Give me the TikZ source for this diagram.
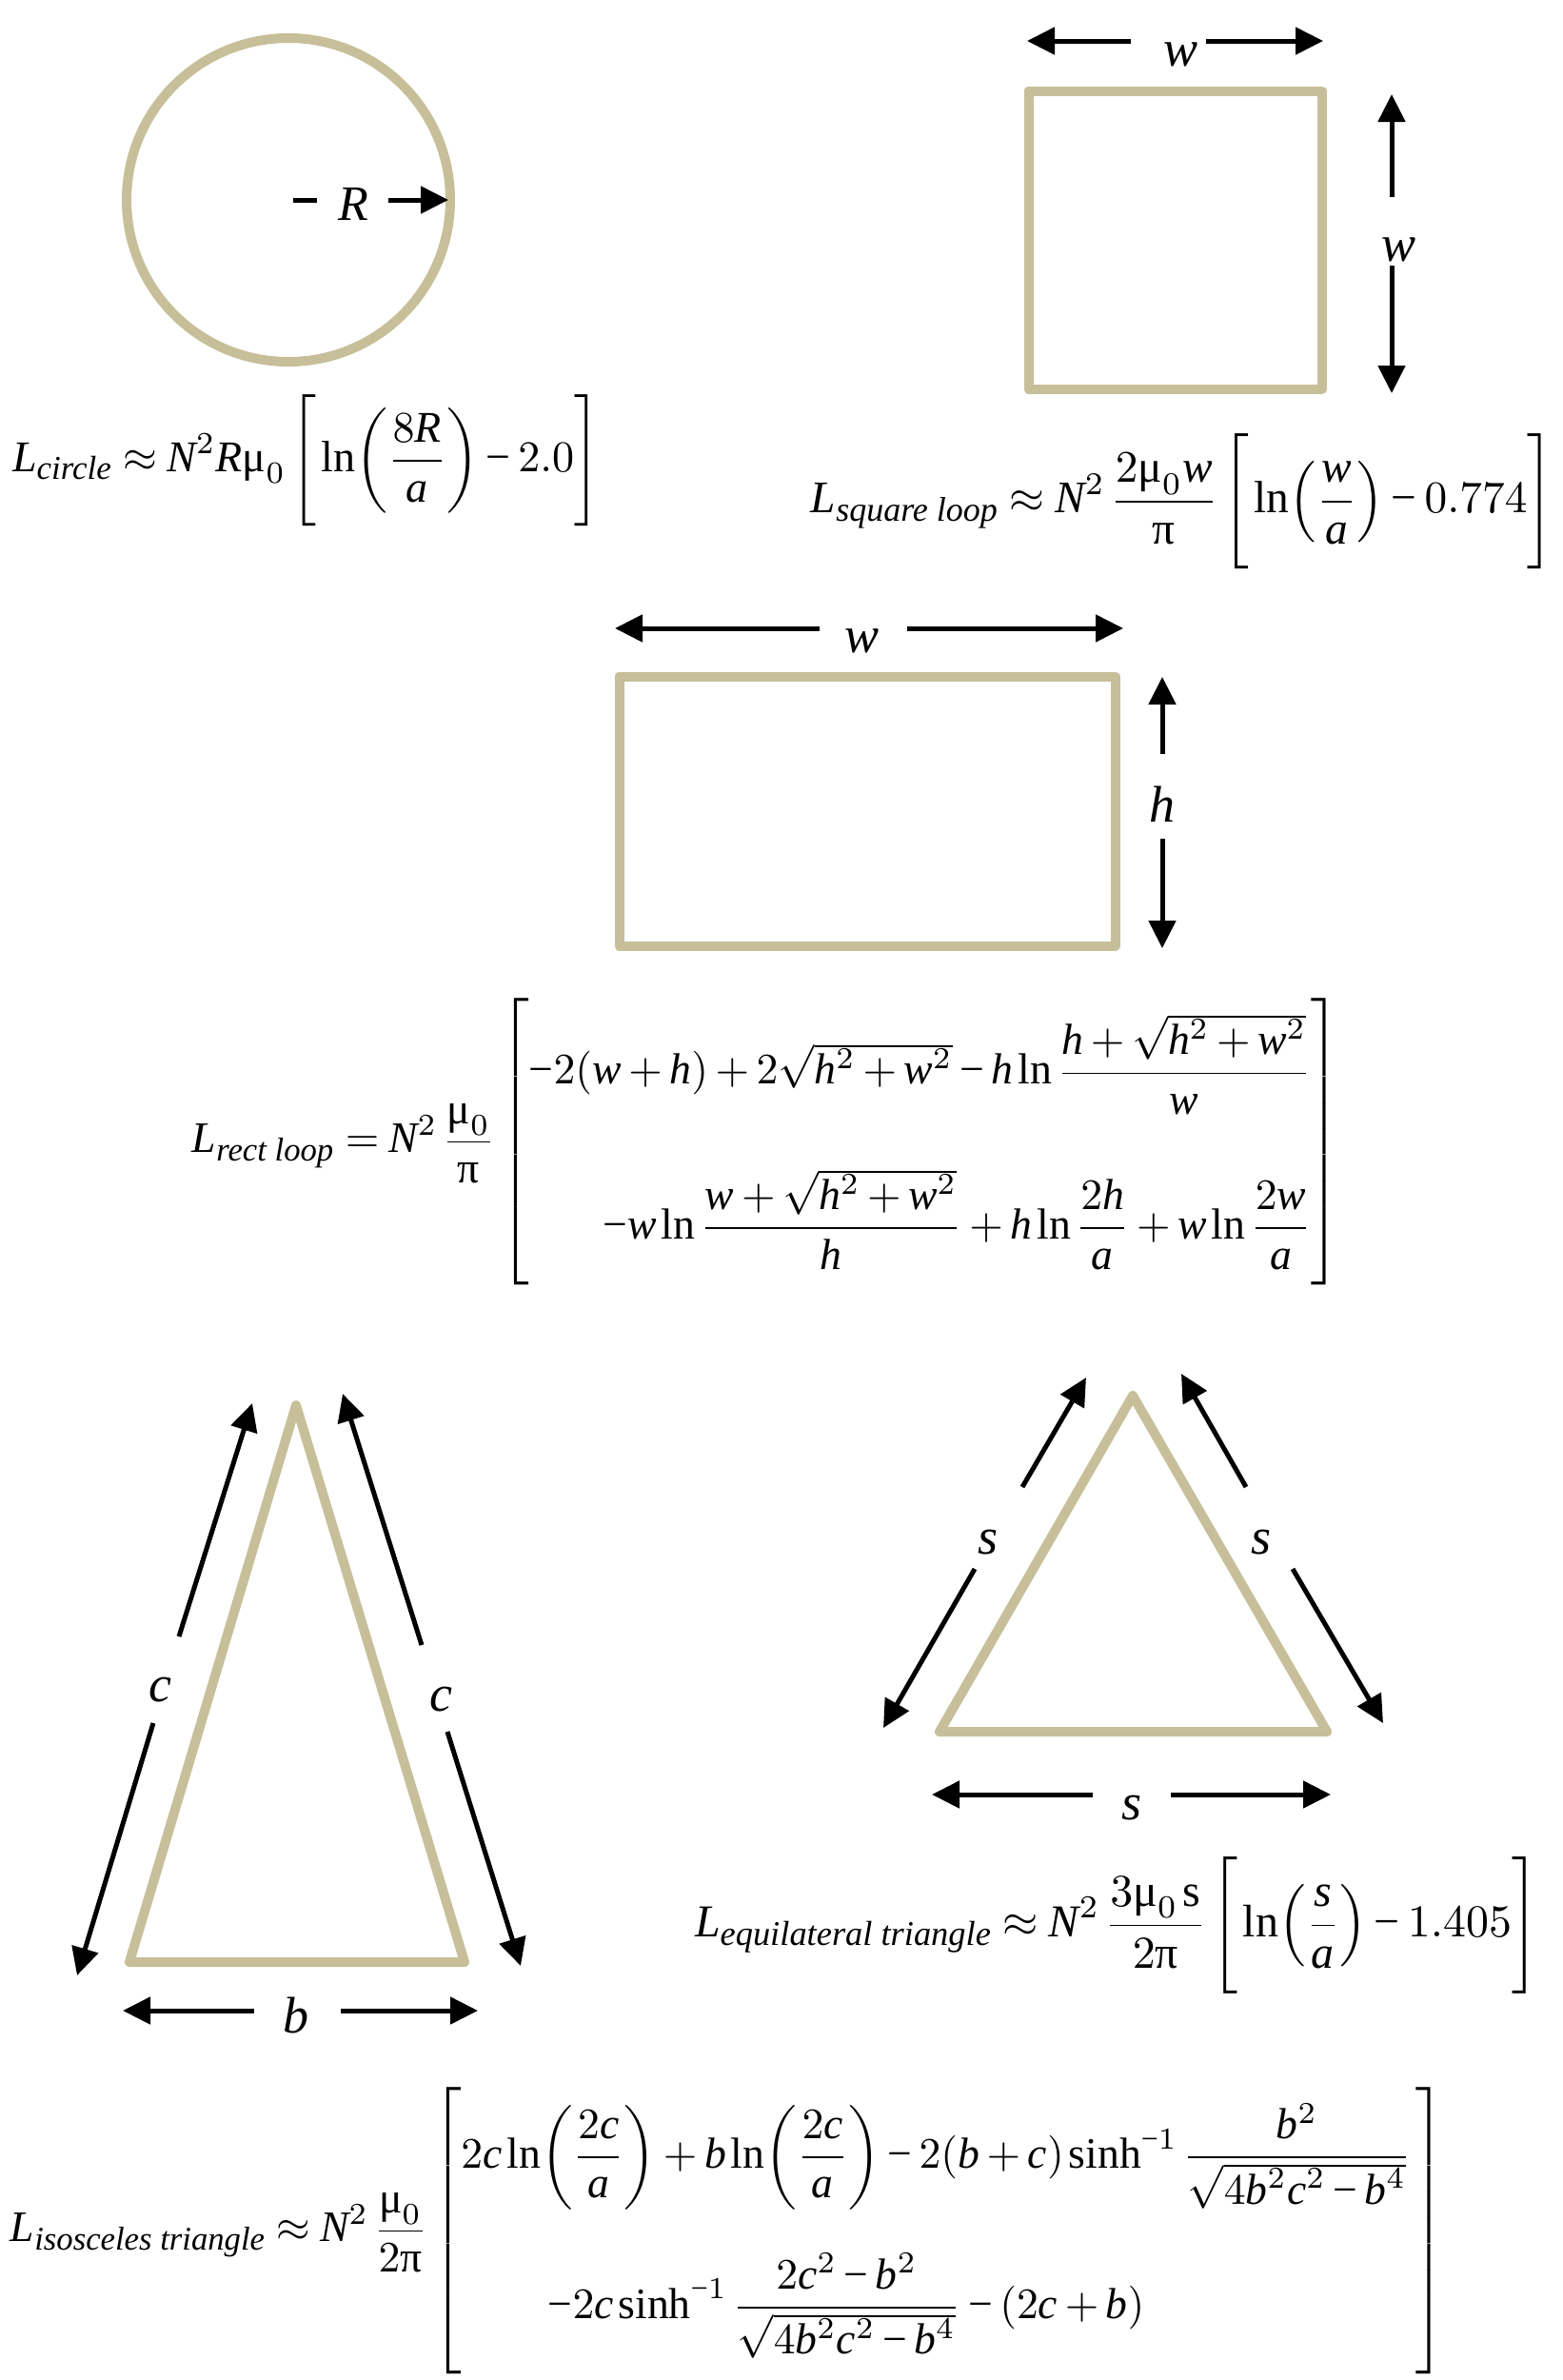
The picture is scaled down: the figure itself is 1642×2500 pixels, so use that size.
\documentclass[tikz,border=0pt]{standalone}
\usepackage{amsmath}
\usepackage{fontspec}
\setmainfont{Liberation Serif}
\DeclareSymbolFont{lsit}{TU}{\rmdefault}{m}{it}
\DeclareSymbolFont{lsup}{TU}{\rmdefault}{m}{n}
\DeclareMathSymbol{a}{\mathalpha}{lsit}{`a}
\DeclareMathSymbol{b}{\mathalpha}{lsit}{`b}
\DeclareMathSymbol{c}{\mathalpha}{lsit}{`c}
\DeclareMathSymbol{h}{\mathalpha}{lsit}{`h}
\DeclareMathSymbol{s}{\mathalpha}{lsit}{`s}
\DeclareMathSymbol{w}{\mathalpha}{lsit}{`w}
\DeclareMathSymbol{L}{\mathalpha}{lsit}{`L}
\DeclareMathSymbol{N}{\mathalpha}{lsit}{`N}
\DeclareMathSymbol{R}{\mathalpha}{lsit}{`R}
\DeclareMathSymbol{+}{\mathbin}{lsup}{`+}
\DeclareMathSymbol{=}{\mathrel}{lsup}{`=}
\DeclareMathSymbol{(}{\mathopen}{lsup}{`(}
\DeclareMathSymbol{)}{\mathclose}{lsup}{`)}
\usetikzlibrary{arrows.meta}
\definecolor{loopcol}{RGB}{198,191,153}
\newcommand{\mmu}{\mbox{μ}}
\newcommand{\mpi}{\mbox{π}}
\newcommand{\mi}{\mathbin{\text{−}}}
\newcommand{\msqrt}[1]{\sqrt{\vphantom{h}\smash{#1}}}
\newcommand{\subtxt}[1]{\mbox{\fontsize{7.6}{8}\selectfont\itshape #1}}
\newcommand{\bstrut}{\rule[-11.25pt]{0pt}{27.5pt}}
\newcommand{\rectstrut}{\rule[-30.5pt]{0pt}{66pt}}
\newcommand{\isostrut}{\rule[-31pt]{0pt}{67pt}}
\newcommand{\fsp}{\medmuskip=3mu\thickmuskip=4mu\thinmuskip=2mu}
\tikzset{
  loopline/.style={draw=loopcol, line width=5pt, line join=round, line cap=round},
  dimarrow/.style={line width=2.5pt, -{Triangle[length=14.5pt,width=14pt]}},
  dimbar/.style={line width=2.5pt},
  dimlabel/.style={font=\fontsize{27}{30}\selectfont\itshape, inner sep=0pt},
  formula/.style={inner sep=0pt, anchor=center}
}
\begin{document}
\begin{tikzpicture}[x=0.5pt,y=-0.5pt]
\useasboundingbox (0,0) rectangle (1642,2500);

% ---------- circle ----------
\coordinate (cc) at (303,210);
\coordinate (cdash0) at (308,210);
\coordinate (cdash) at (333,210);
\coordinate (carrow) at (408,210);
\coordinate (cedge) at (471,210);
\draw[loopline] (cc) circle [radius=170];
\node[dimlabel, font=\fontsize{26}{30}\selectfont\itshape] (Rlab) at (371,214) {R};
\draw[dimbar] (cdash0) -- (cdash);
\draw[dimarrow] (carrow) -- (cedge);
\node[formula] (fcircle) at (321.5,484) {\resizebox{308.5pt}{!}{\fsp$\displaystyle
  L_{\subtxt{circle}} \approx N^{2}R\mmu_{0}\left[\bstrut\ln\!\left(\frac{8R}{a}\right)\mi 2.0\right]$}};

% ---------- square ----------
\draw[loopline] (1080.5,95.5) rectangle (1388.5,408.5);
\coordinate (sqwL0) at (1188,43);  \coordinate (sqwL1) at (1079,43);
\coordinate (sqwR0) at (1267,43);  \coordinate (sqwR1) at (1390,43);
\node[dimlabel] (sqw) at (1240,57) {w};
\draw[dimarrow] (sqwL0) -- (sqwL1);
\draw[dimarrow] (sqwR0) -- (sqwR1);
\coordinate (sqhU0) at (1462,207); \coordinate (sqhU1) at (1462,99);
\coordinate (sqhD0) at (1462,279); \coordinate (sqhD1) at (1462,413);
\node[dimlabel] (sqh) at (1469,262) {w};
\draw[dimarrow] (sqhU0) -- (sqhU1);
\draw[dimarrow] (sqhD0) -- (sqhD1);
\node[formula] (fsquare) at (1242,527) {\resizebox{390pt}{!}{\fsp$\displaystyle
  L_{\subtxt{square loop}} \approx N^{2}\,\frac{2\mmu_{0}w}{\mpi}\left[\bstrut\ln\!\left(\frac{w}{a}\right)\mi 0.774\right]$}};

% ---------- rectangle ----------
\draw[loopline] (650.5,710.5) rectangle (1171.5,993.5);
\coordinate (rwL0) at (861,660);  \coordinate (rwL1) at (646,660);
\coordinate (rwR0) at (953,660);  \coordinate (rwR1) at (1180,660);
\node[dimlabel] (rw) at (905,673) {w};
\draw[dimarrow] (rwL0) -- (rwL1);
\draw[dimarrow] (rwR0) -- (rwR1);
\coordinate (rhU0) at (1221,792); \coordinate (rhU1) at (1221,711);
\coordinate (rhD0) at (1221,881); \coordinate (rhD1) at (1221,996);
\node[dimlabel] (rh) at (1221,845) {h};
\draw[dimarrow] (rhU0) -- (rhU1);
\draw[dimarrow] (rhD0) -- (rhD1);
\node[formula] (frect) at (805,1199.5) {\resizebox{603pt}{!}{\fsp$\displaystyle
  L_{\subtxt{rect loop}} = N^{2}\,\frac{\mmu_{0}}{\mpi}\left[\rectstrut\begin{array}{@{}r@{}}
  \mi 2(w+h)+2\msqrt{h^{2}+w^{2}}\mi h\ln\dfrac{h+\msqrt{h^{2}+w^{2}}}{w}\\[16pt]
  \mi w\ln\dfrac{w+\msqrt{h^{2}+w^{2}}}{h}+h\ln\dfrac{2h}{a}+w\ln\dfrac{2w}{a}
  \end{array}\right]$}};

% ---------- isosceles triangle ----------
\draw[loopline] (311,1476) -- (488,2061) -- (136,2061) -- cycle;
\coordinate (icL0) at (188,1719);  \coordinate (icL1) at (265,1474);
\coordinate (icL2) at (161,1810);  \coordinate (icL3) at (81,2075);
\node[dimlabel] (icL) at (168,1775) {c};
\draw[dimarrow] (icL0) -- (icL1);
\draw[dimarrow] (icL2) -- (icL3);
\coordinate (icR0) at (443,1728);  \coordinate (icR1) at (360,1464);
\coordinate (icR2) at (470,1819);  \coordinate (icR3) at (547,2065);
\node[dimlabel] (icR) at (463,1785) {c};
\draw[dimarrow] (icR0) -- (icR1);
\draw[dimarrow] (icR2) -- (icR3);
\coordinate (ibL0) at (267,2112);  \coordinate (ibL1) at (129,2112);
\coordinate (ibR0) at (358,2112);  \coordinate (ibR1) at (502,2112);
\node[dimlabel] (ib) at (311,2117) {b};
\draw[dimarrow] (ibL0) -- (ibL1);
\draw[dimarrow] (ibR0) -- (ibR1);

% ---------- equilateral triangle ----------
\draw[loopline] (1190,1466) -- (1394,1819) -- (987,1819) -- cycle;
\coordinate (esL0) at (1074,1562); \coordinate (esL1) at (1141,1447);
\coordinate (esL2) at (1024,1648); \coordinate (esL3) at (928,1815);
\node[dimlabel] (esL) at (1038,1620) {s};
\draw[dimarrow] (esL0) -- (esL1);
\draw[dimarrow] (esL2) -- (esL3);
\coordinate (esR0) at (1309,1562); \coordinate (esR1) at (1241,1443);
\coordinate (esR2) at (1358,1648); \coordinate (esR3) at (1453,1810);
\node[dimlabel] (esR) at (1325,1620) {s};
\draw[dimarrow] (esR0) -- (esR1);
\draw[dimarrow] (esR2) -- (esR3);
\coordinate (ebL0) at (1148,1885); \coordinate (ebL1) at (979,1885);
\coordinate (ebR0) at (1230,1885); \coordinate (ebR1) at (1398,1885);
\node[dimlabel] (eb) at (1189,1899) {s};
\draw[dimarrow] (ebL0) -- (ebL1);
\draw[dimarrow] (ebR0) -- (ebR1);

\node[formula] (fequi) at (1173,2022.5) {\resizebox{443pt}{!}{\fsp$\displaystyle
  L_{\subtxt{equilateral triangle}} \approx N^{2}\,\frac{3\mmu_{0}\,\mathrm{s}}{2\mpi}\left[\bstrut\ln\!\left(\frac{s}{a}\right)\mi 1.405\right]$}};

\node[formula] (fiso) at (764.5,2343.5) {\resizebox{753.5pt}{!}{\fsp$\displaystyle
  L_{\subtxt{isosceles triangle}} \approx N^{2}\,\frac{\mmu_{0}}{2\mpi}\left[\isostrut\begin{array}{@{}l@{}}
  2c\ln\!\left(\dfrac{2c}{a}\right)+b\ln\!\left(\dfrac{2c}{a}\right)\mi 2(b+c)\sinh^{\mi 1}\dfrac{b^{2}}{\msqrt{4b^{2}c^{2}\mi b^{4}}}\\[16pt]
  \qquad \mi 2c\sinh^{\mi 1}\dfrac{2c^{2}\mi b^{2}}{\msqrt{4b^{2}c^{2}\mi b^{4}}}\mi (2c+b)
  \end{array}\,\right]$}};
\end{tikzpicture}
\end{document}
